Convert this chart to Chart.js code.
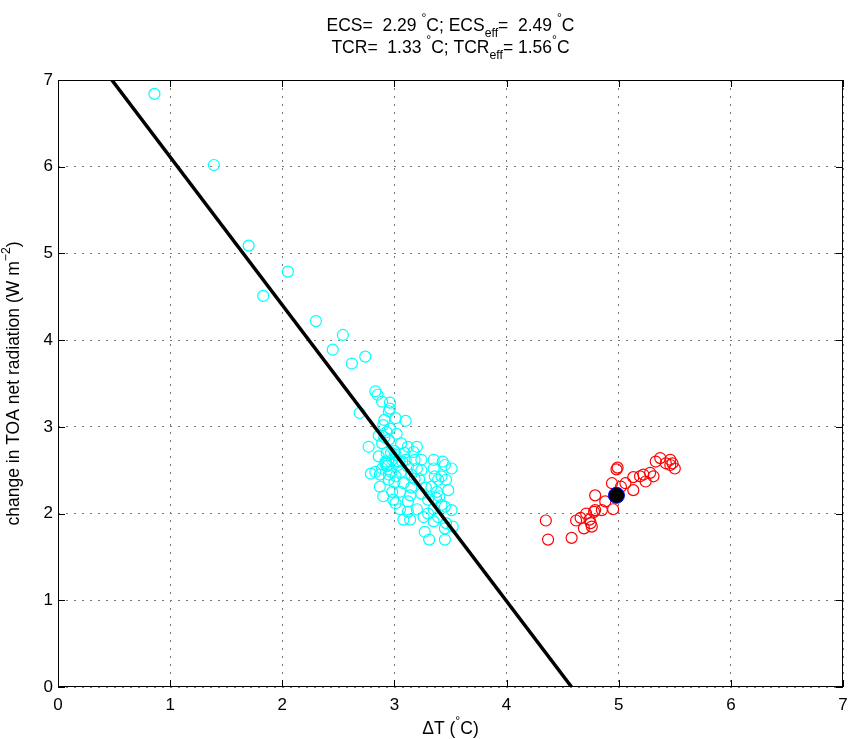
<!DOCTYPE html>
<html>
<head>
<meta charset="utf-8">
<script src="https://cdn.jsdelivr.net/npm/chart.js@4"></script>
<style>
  html, body { margin: 0; padding: 0; background: #fff; }
</style>
</head>
<body>
<canvas id="myChart" width="852" height="739"></canvas>
<script>
// cyan: annual means (dT, dN)
const cyanX = [0.86, 1.39, 1.70, 2.05, 1.83, 2.30, 2.54, 2.45, 2.74, 2.62, 2.69,
  2.83, 2.85, 2.89, 2.96, 2.96, 2.95, 3.01, 3.10, 2.91, 2.90, 2.96, 2.93,
  2.77, 2.89, 3.06, 3.12, 3.20, 3.17, 3.09, 3.01, 2.93, 2.86, 2.98, 2.92,
  2.83, 2.89, 3.03, 3.12, 3.20, 3.24, 3.24, 3.35, 3.43, 3.45, 3.51, 3.35,
  3.36, 3.42, 3.46, 3.48, 3.39, 3.33, 2.87, 2.95, 3.01, 3.08, 3.05, 3.14,
  2.98, 2.99, 3.01, 3.12, 3.24, 3.37, 3.30, 3.45, 3.51, 3.12, 3.08, 3.14,
  3.26, 3.30, 3.35, 3.39, 3.46, 3.52, 3.45, 3.27, 3.31, 3.45,
  2.79, 2.87, 2.94, 2.97, 3.04, 3.18, 3.15, 3.40, 2.91, 3.00, 2.95, 3.07,
  2.93, 2.97, 3.02, 3.06, 3.10, 2.95, 3.00, 3.15, 3.22, 3.28, 3.38, 3.42,
  3.20, 3.35, 3.05, 2.90, 2.92, 3.18, 2.86, 3.02];
const cyanY = [6.84, 6.02, 5.09, 4.79, 4.51, 4.22, 4.06, 3.89, 3.81, 3.73, 3.16,
  3.41, 3.37, 3.29, 3.28, 3.21, 3.18, 3.10, 3.07, 3.08, 3.02, 2.98, 2.94,
  2.77, 2.81, 2.81, 2.77, 2.77, 2.71, 2.70, 2.68, 2.70, 2.66, 2.62, 2.58,
  2.48, 2.52, 2.56, 2.54, 2.52, 2.62, 2.50, 2.62, 2.60, 2.56, 2.52, 2.52,
  2.43, 2.43, 2.39, 2.27, 2.39, 2.31, 2.31, 2.39, 2.43, 2.35, 2.25, 2.21,
  2.25, 2.16, 2.12, 2.14, 2.23, 2.18, 2.16, 2.08, 2.04, 2.02, 1.93, 1.93,
  1.96, 2.00, 1.91, 1.96, 1.89, 1.85, 1.83, 1.79, 1.70, 1.70,
  2.46, 2.45, 2.55, 2.48, 2.60, 2.40, 2.30, 2.20, 2.88, 2.72, 2.85, 2.60,
  2.55, 2.70, 2.60, 2.48, 2.62, 2.45, 2.36, 2.45, 2.40, 2.30, 2.25, 2.10,
  2.05, 2.05, 2.05, 2.20, 2.60, 2.62, 2.90, 2.92];
// red: equilibrium-period points
const redX = [4.35, 4.37, 4.58, 4.62, 4.66, 4.69, 4.71, 4.74, 4.75, 4.76, 4.78,
  4.79, 4.85, 4.88, 4.79, 4.95, 4.94, 4.99, 4.98, 5.02, 5.06, 5.13, 5.13,
  5.19, 5.24, 5.22, 5.28, 5.31, 5.33, 5.37, 5.42, 5.46, 5.48, 5.50, 5.46];
const redY = [1.92, 1.70, 1.72, 1.92, 1.95, 1.83, 2.00, 1.93, 1.89, 1.85, 2.02,
  2.04, 2.04, 2.14, 2.21, 2.05, 2.35, 2.53, 2.51, 2.31, 2.35, 2.27, 2.42,
  2.43, 2.37, 2.45, 2.47, 2.43, 2.60, 2.64, 2.58, 2.62, 2.58, 2.52, 2.56];
// mean of red points
const meanX = [4.98];
const meanY = [2.21];
// regression line end points
const fitX = [0.48, 4.58];
const fitY = [7, 0];
const axisTicks = [0, 1, 2, 3, 4, 5, 6, 7];

const titleLine1 = [['ECS=  2.29 ', ''], ['°', 'sup'], ['C; ECS', ''], ['eff', 'sub'], ['=  2.49 ', ''], ['°', 'sup'], ['C', '']];
const titleLine2 = [['TCR=  1.33 ', ''], ['°', 'sup'], ['C; TCR', ''], ['eff', 'sub'], ['= 1.56', ''], ['°', 'sup'], ['C', '']];
const xTitle = [['ΔT (', ''], ['°', 'sup'], ['C)', '']];
const yTitle = [['change in TOA net radiation (W m', ''], ['−2', 'sup'], [')', '']];

const pts = (xs, ys) => xs.map((x, i) => ({x: x, y: ys[i]}));

const FONT = '"Liberation Sans", Arial, sans-serif';

function drawRich(ctx, segs, cx, cy, size, angle) {
  ctx.save();
  ctx.translate(cx, cy);
  ctx.rotate(angle || 0);
  ctx.fillStyle = '#000';
  ctx.textBaseline = 'alphabetic';
  ctx.textAlign = 'left';
  let total = 0;
  const parts = segs.map(([t, k]) => {
    const s = k ? size * 0.7 : size;
    ctx.font = s + 'px ' + FONT;
    const w = ctx.measureText(t).width;
    total += w;
    return {t, k, s, w};
  });
  let x = -total / 2;
  parts.forEach(p => {
    ctx.font = p.s + 'px ' + FONT;
    let dy = 0;
    if (p.k === 'sub') dy = size * 0.35;
    if (p.k === 'sup') dy = -size * 0.5;
    ctx.fillText(p.t, x, dy);
    x += p.w;
  });
  ctx.restore();
}

const frame = {
  id: 'frame',
  afterDraw(chart) {
    const {ctx, chartArea: a, scales} = chart;
    ctx.save();
    ctx.strokeStyle = '#000';
    ctx.lineWidth = 1;
    ctx.strokeRect(a.left + 0.5, a.top + 0.5, a.right - a.left - 1, a.bottom - a.top - 1);
    const tl = 7;
    ctx.beginPath();
    axisTicks.forEach(v => {
      const px = Math.round(scales.x.getPixelForValue(v)) + 0.5;
      ctx.moveTo(px, a.bottom); ctx.lineTo(px, a.bottom - tl);
      ctx.moveTo(px, a.top); ctx.lineTo(px, a.top + tl);
      const py = Math.round(scales.y.getPixelForValue(v)) + 0.5;
      ctx.moveTo(a.left, py); ctx.lineTo(a.left + tl, py);
      ctx.moveTo(a.right, py); ctx.lineTo(a.right - tl, py);
    });
    ctx.stroke();
    ctx.restore();

    const mid = (a.left + a.right) / 2;
    drawRich(ctx, titleLine1, mid, 31, 17.5);
    drawRich(ctx, titleLine2, mid, 53, 17.5);
    drawRich(ctx, xTitle, mid, 734, 17.5);
    drawRich(ctx, yTitle, 19, (a.top + a.bottom) / 2, 17.5, -Math.PI / 2);
  }
};

const tickFont = {family: FONT, size: 17};

new Chart(document.getElementById('myChart'), {
  type: 'scatter',
  data: {
    datasets: [
      {
        label: 'fit',
        data: pts(fitX, fitY),
        showLine: true,
        borderColor: '#000',
        borderWidth: 3.5,
        pointRadius: 0
      },
      {
        label: 'mean',
        data: pts(meanX, meanY),
        pointRadius: 8,
        backgroundColor: '#000',
        borderColor: '#0000ff',
        borderWidth: 1
      },
      {
        label: 'red',
        data: pts(redX, redY),
        pointRadius: 5.5,
        backgroundColor: 'rgba(0,0,0,0)',
        borderColor: '#ff0000',
        borderWidth: 1.2
      },
      {
        label: 'cyan',
        data: pts(cyanX, cyanY),
        pointRadius: 5.5,
        backgroundColor: 'rgba(0,0,0,0)',
        borderColor: '#00ffff',
        borderWidth: 1.2
      }
    ]
  },
  options: {
    responsive: false,
    animation: false,
    layout: { padding: { top: 80, right: 4, left: 0, bottom: 0 } },
    plugins: { legend: { display: false }, tooltip: { enabled: false } },
    scales: {
      x: {
        min: 0, max: 7,
        afterFit: s => { s.height = 52; s.paddingLeft = 0; s.paddingRight = 0; },
        ticks: { stepSize: 1, padding: 8, color: '#000', font: tickFont, maxRotation: 0 },
        grid: { color: '#777', drawTicks: false },
        border: { display: false, dash: [2, 6] }
      },
      y: {
        min: 0, max: 7,
        afterFit: s => { s.width = 58; s.paddingTop = 0; s.paddingBottom = 0; },
        ticks: { stepSize: 1, padding: 5, color: '#000', font: tickFont },
        grid: { color: '#777', drawTicks: false },
        border: { display: false, dash: [2, 6] }
      }
    }
  },
  plugins: [frame]
});
</script>
</body>
</html>
